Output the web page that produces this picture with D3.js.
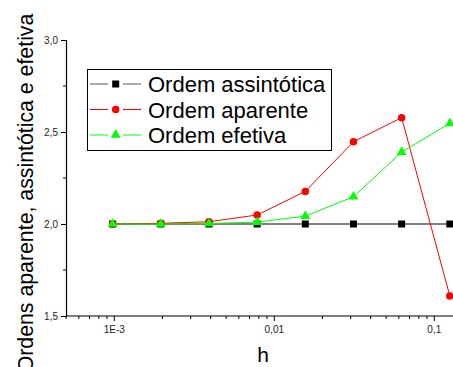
<!DOCTYPE html>
<html>
<head>
<meta charset="utf-8">
<script src="https://cdn.jsdelivr.net/npm/d3@7"></script>
<style>
  body { margin: 0; background: #fff; }
  svg { display: block; font-family: "Liberation Sans", Arial, sans-serif; }
</style>
</head>
<body>
<div id="chart"></div>
<script>
// grid spacings h
const hValues = [1/1024, 1/512, 1/256, 1/128, 1/64, 1/32, 1/16, 1/8];
const ordemAssintotica = [2.0, 2.0, 2.0, 2.0, 2.0, 2.0, 2.0, 2.0];
const ordemAparente = [2.0, 2.004, 2.012, 2.049, 2.177, 2.447, 2.578, 1.609];
const ordemEfetiva = [2.0, 2.0, 2.003, 2.01, 2.043, 2.148, 2.391, 2.547];

const yTicks = [1.5, 2.0, 2.5, 3.0];
const xTicks = [0.001, 0.01, 0.1];
const xTickLabels = ["1E-3", "0,01", "0,1"];

const series = [
  {name: "Ordem assintótica", values: ordemAssintotica, color: "#000", symbol: d3.symbolSquare, size: 49},
  {name: "Ordem aparente", values: ordemAparente, color: "#ff0000", symbol: d3.symbolCircle, size: 44},
  {name: "Ordem efetiva", values: ordemEfetiva, color: "#00ff00", symbol: d3.symbolTriangle, size: 42}
];

const width = 453, height = 367;
const margin = {left: 66, top: 40, bottom: 51};

const svg = d3.select("#chart").append("svg")
  .attr("width", width)
  .attr("height", height);

// log x scale: 160px per decade, 1E-3 at x=114.3
const xScale = d3.scaleLog()
  .domain([0.001, 0.1])
  .range([114.3, 434.3]);
const xMin = xScale.invert(margin.left);
const xMax = xScale.invert(width + 5);

const yScale = d3.scaleLinear()
  .domain([1.5, 3.0])
  .range([height - margin.bottom, margin.top]);

// x axis with minor ticks
const minorX = [];
for (let e = -4; e <= 0; e++) {
  for (let m = 2; m <= 9; m++) {
    const v = m * Math.pow(10, e);
    if (v >= xMin && v <= xMax) minorX.push(v);
  }
}
const xAxisG = svg.append("g")
  .attr("transform", `translate(0,${yScale(1.5)})`);
xAxisG.append("line")
  .attr("x1", margin.left).attr("x2", width)
  .attr("stroke", "#000").attr("stroke-width", 1.2);
xAxisG.selectAll(".minor").data(minorX).join("line")
  .attr("x1", d => xScale(d)).attr("x2", d => xScale(d))
  .attr("y1", 0).attr("y2", 3)
  .attr("stroke", "#000");
xAxisG.selectAll(".major").data(xTicks).join("line")
  .attr("x1", d => xScale(d)).attr("x2", d => xScale(d))
  .attr("y1", 0).attr("y2", 5)
  .attr("stroke", "#000");
xAxisG.selectAll("text").data(xTicks).join("text")
  .attr("x", d => xScale(d))
  .attr("y", 17)
  .attr("text-anchor", "middle")
  .attr("font-size", 10)
  .attr("fill", "#222")
  .text((d, i) => xTickLabels[i]);

// y axis
const yAxis = d3.axisLeft(yScale)
  .tickValues(yTicks)
  .tickSize(5)
  .tickPadding(3)
  .tickFormat(d => d3.format(".1f")(d).replace(".", ","));
const yAxisG = svg.append("g")
  .attr("transform", `translate(${margin.left},0)`)
  .call(yAxis);
yAxisG.select(".domain").attr("stroke-width", 1.2);
yAxisG.selectAll("text").attr("font-size", 10).attr("fill", "#222")
  .attr("font-family", "Liberation Sans, Arial, sans-serif");
yAxisG.selectAll(".minor").data([1.75, 2.25, 2.75]).join("line")
  .attr("class", "minor")
  .attr("x1", -3).attr("x2", 0)
  .attr("y1", d => yScale(d)).attr("y2", d => yScale(d))
  .attr("stroke", "#000");

// axis titles
svg.append("text")
  .attr("x", 263).attr("y", 362)
  .attr("text-anchor", "middle")
  .attr("font-size", 21)
  .text("h");
svg.append("text")
  .attr("transform", "translate(33,193) rotate(-90)")
  .attr("text-anchor", "middle")
  .attr("font-size", 21.3)
  .text("Ordens aparente, assintótica e efetiva");

// series
const line = d3.line()
  .x((d, i) => xScale(hValues[i]))
  .y(d => yScale(d));

series.forEach(s => {
  const g = svg.append("g");
  g.append("path")
    .attr("d", line(s.values))
    .attr("fill", "none")
    .attr("stroke", s.color)
    .attr("stroke-width", 1);
  g.selectAll("path.pt").data(s.values).join("path")
    .attr("class", "pt")
    .attr("transform", (d, i) => `translate(${xScale(hValues[i])},${yScale(d)})`)
    .attr("d", d3.symbol().type(s.symbol).size(s.size))
    .attr("fill", s.color);
});

// legend
const legend = svg.append("g");
legend.append("rect")
  .attr("x", 87.5).attr("y", 69.5)
  .attr("width", 244).attr("height", 81)
  .attr("fill", "#fff")
  .attr("stroke", "#000");
series.forEach((s, i) => {
  const y = 84 + i * 25.5;
  const col = s.color === "#000" ? "#555" : s.color;
  legend.append("line")
    .attr("x1", 90).attr("x2", 108).attr("y1", y).attr("y2", y)
    .attr("stroke", col);
  legend.append("line")
    .attr("x1", 123).attr("x2", 141).attr("y1", y).attr("y2", y)
    .attr("stroke", col);
  legend.append("path")
    .attr("transform", `translate(115.7,${y})`)
    .attr("d", d3.symbol().type(s.symbol).size(s.size))
    .attr("fill", s.color);
  legend.append("text")
    .attr("x", 148).attr("y", y + 8)
    .attr("font-size", 22)
    .text(s.name);
});
</script>
</body>
</html>
